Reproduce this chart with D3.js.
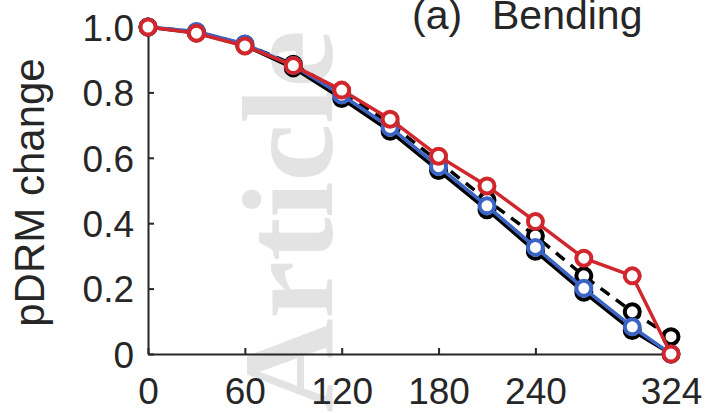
<!DOCTYPE html>
<html>
<head>
<meta charset="utf-8">
<script src="https://cdn.jsdelivr.net/npm/d3@7"></script>
<style>
  html, body { margin: 0; padding: 0; background: #fff; }
  svg { display: block; }
</style>
</head>
<body>
<svg id="chart" width="705" height="413"></svg>
<script>
// ---- data ----
const xValues = [0, 30, 60, 90, 120, 150, 180, 210, 240, 270, 300, 324];
const blackSolid = [1.0, 0.982, 0.943, 0.875, 0.781, 0.681, 0.561, 0.441, 0.314, 0.189, 0.072, 0.0];
const blackDashed = [1.0, 0.985, 0.947, 0.886, 0.800, 0.705, 0.588, 0.471, 0.361, 0.239, 0.129, 0.053];
const blueSeries = [1.0, 0.986, 0.948, 0.882, 0.792, 0.693, 0.573, 0.453, 0.326, 0.201, 0.083, 0.0];
const redSeries = [1.0, 0.981, 0.942, 0.882, 0.807, 0.718, 0.605, 0.514, 0.405, 0.293, 0.239, 0.0];
const xTicks = [0, 60, 120, 180, 240, 324];
const yTicks = [0, 0.2, 0.4, 0.6, 0.8, 1.0];
const yTickLabels = ["0", "0.2", "0.4", "0.6", "0.8", "1.0"];
const titleParts = ["(a)", "Bending"];
const yLabel = "pDRM change";
const watermark = "Article";

// ---- layout ----
const svg = d3.select("#chart");
const x = d3.scaleLinear().domain([0, 324]).range([148, 671]);
const y = d3.scaleLinear().domain([0, 1]).range([354, 27]);
const axisColor = "#262626";
const font = "'Liberation Sans', Arial, Helvetica, sans-serif";

// watermark
svg.append("text")
  .attr("transform", "translate(332,30) rotate(-90)")
  .attr("text-anchor", "end")
  .attr("font-family", "'Liberation Serif', 'Times New Roman', serif")
  .attr("font-weight", "bold")
  .attr("font-size", 130)
  .attr("fill", "#e3e3e3")
  .text(watermark);

// axes
const xAxis = d3.axisBottom(x).tickValues(xTicks).tickSizeInner(-6).tickSizeOuter(0)
  .tickPadding(24).tickFormat(d3.format("d"));
const gx = svg.append("g").attr("transform", `translate(0,${y(0)})`).call(xAxis);
const yAxis = d3.axisLeft(y).tickValues(yTicks).tickSizeInner(-6).tickSizeOuter(0)
  .tickPadding(14).tickFormat((d, i) => yTickLabels[i]);
const gy = svg.append("g").attr("transform", `translate(${x(0)},0)`).call(yAxis);

[gx, gy].forEach(g => {
  g.select(".domain").attr("stroke", axisColor).attr("stroke-width", 2);
  g.selectAll(".tick line").attr("stroke", axisColor).attr("stroke-width", 2);
  g.selectAll(".tick text").attr("fill", axisColor).attr("font-family", font).attr("font-size", 37);
});
gy.selectAll(".tick text").attr("dy", "0.36em");

// y label
svg.append("text")
  .attr("transform", `translate(44,${(y(0) + y(1)) / 2 + 2}) rotate(-90)`)
  .attr("text-anchor", "middle")
  .attr("font-family", font)
  .attr("font-size", 42)
  .attr("fill", axisColor)
  .text(yLabel);

// title
svg.append("text")
  .attr("x", 412).attr("y", 29)
  .attr("font-family", font).attr("font-size", 41).attr("fill", axisColor)
  .text(titleParts[0]);
svg.append("text")
  .attr("x", 492).attr("y", 29)
  .attr("font-family", font).attr("font-size", 41).attr("fill", axisColor)
  .text(titleParts[1]);

// series
const series = [
  { values: blackDashed, color: "#000000", dash: "11,8" },
  { values: blackSolid, color: "#000000", dash: null },
  { values: blueSeries, color: "#3c64c4", dash: null },
  { values: redSeries, color: "#d0262c", dash: null }
];

const line = d3.line().x((d, i) => x(xValues[i])).y(d => y(d));

series.forEach(s => {
  const g = svg.append("g");
  g.append("path")
    .datum(s.values)
    .attr("d", line)
    .attr("fill", "none")
    .attr("stroke", s.color)
    .attr("stroke-width", 3.5)
    .attr("stroke-dasharray", s.dash);
  g.selectAll("circle")
    .data(s.values)
    .join("circle")
    .attr("cx", (d, i) => x(xValues[i]))
    .attr("cy", d => y(d))
    .attr("r", 7.5)
    .attr("fill", "#fff")
    .attr("stroke", s.color)
    .attr("stroke-width", 4);
});
</script>
</body>
</html>
